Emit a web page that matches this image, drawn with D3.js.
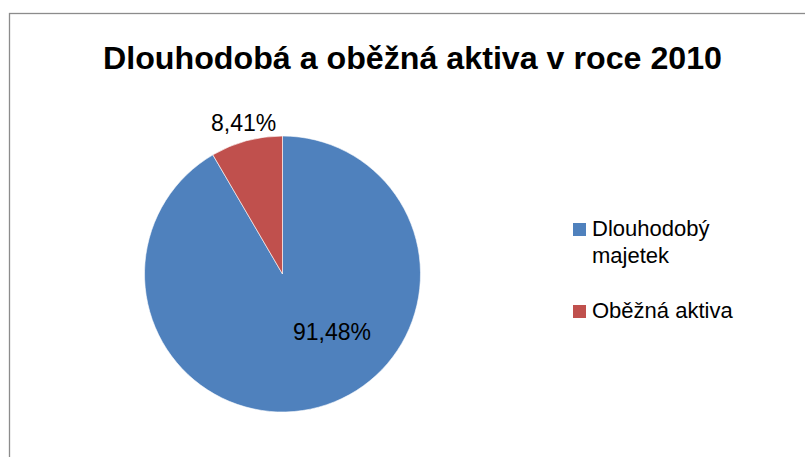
<!DOCTYPE html>
<html>
<head>
<meta charset="utf-8">
<script src="https://cdn.jsdelivr.net/npm/d3@7/dist/d3.min.js"></script>
<style>
  html, body { margin: 0; padding: 0; background: #fff; }
  svg { display: block; }
  text { font-family: "Liberation Sans", Arial, sans-serif; fill: #000; }
</style>
</head>
<body>
<svg id="chart" width="805" height="457"></svg>
<script>
// Chart data
const categories = ["Dlouhodobý majetek", "Oběžná aktiva"];
const values = [91.48, 8.41];
const valueLabels = ["91,48%", "8,41%"];
const legendLines = [["Dlouhodobý", "majetek"], ["Oběžná aktiva"]];
const colors = ["#4F81BD", "#C0504D"];
const title = "Dlouhodobá a oběžná aktiva v roce 2010";

const svg = d3.select("#chart");
const W = 805, H = 457;

// Chart area frame (continues past the right and bottom edges)
svg.append("rect")
  .attr("x", 9.5).attr("y", 13.5)
  .attr("width", W + 20).attr("height", H + 20)
  .attr("fill", "#fff")
  .attr("stroke", "#8c8c8c")
  .attr("stroke-width", 1.3);

// Title
svg.append("text")
  .attr("x", 412.5).attr("y", 69)
  .attr("text-anchor", "middle")
  .attr("font-size", 31)
  .attr("font-weight", "bold")
  .attr("textLength", 619)
  .attr("lengthAdjust", "spacingAndGlyphs")
  .text(title);

// Pie
const cx = 282.5, cy = 274, R = 138;
const color = d3.scaleOrdinal().domain(categories).range(colors);
const pie = d3.pie().sort(null).value(d => d.value);
const data = categories.map((c, i) => ({ name: c, value: values[i], label: valueLabels[i] }));
const arcs = pie(data);
const arc = d3.arc().innerRadius(0).outerRadius(R);

const g = svg.append("g").attr("transform", `translate(${cx},${cy})`);
g.selectAll("path.slice")
  .data(arcs)
  .enter().append("path")
  .attr("class", "slice")
  .attr("d", arc)
  .attr("fill", d => color(d.data.name))
  .attr("stroke", "#fff")
  .attr("stroke-width", 0.6);

// Value labels: the large slice is labelled inside, the small one just outside
const labelOffset = [
  d => [49.5, 66],   // inside the big slice
  d => { const a = (d.startAngle + d.endAngle) / 2, r = R + 22;
         return [Math.sin(a) * r + 3, -Math.cos(a) * r + 11]; }
];
g.selectAll("text.val")
  .data(arcs)
  .enter().append("text")
  .attr("class", "val")
  .attr("text-anchor", "middle")
  .attr("font-size", 23)
  .attr("x", (d, i) => labelOffset[i](d)[0])
  .attr("y", (d, i) => labelOffset[i](d)[1])
  .text(d => d.data.label);

// Legend
const legendY = [236, 318];
const lg = svg.append("g");
categories.forEach((c, i) => {
  lg.append("rect")
    .attr("x", 573).attr("y", legendY[i] - 13)
    .attr("width", 13).attr("height", 13)
    .attr("fill", color(c));
  const t = lg.append("text")
    .attr("x", 592).attr("y", legendY[i])
    .attr("font-size", 22);
  legendLines[i].forEach((line, j) => {
    t.append("tspan").attr("x", 592).attr("dy", j === 0 ? 0 : 27).text(line);
  });
});
</script>
</body>
</html>
